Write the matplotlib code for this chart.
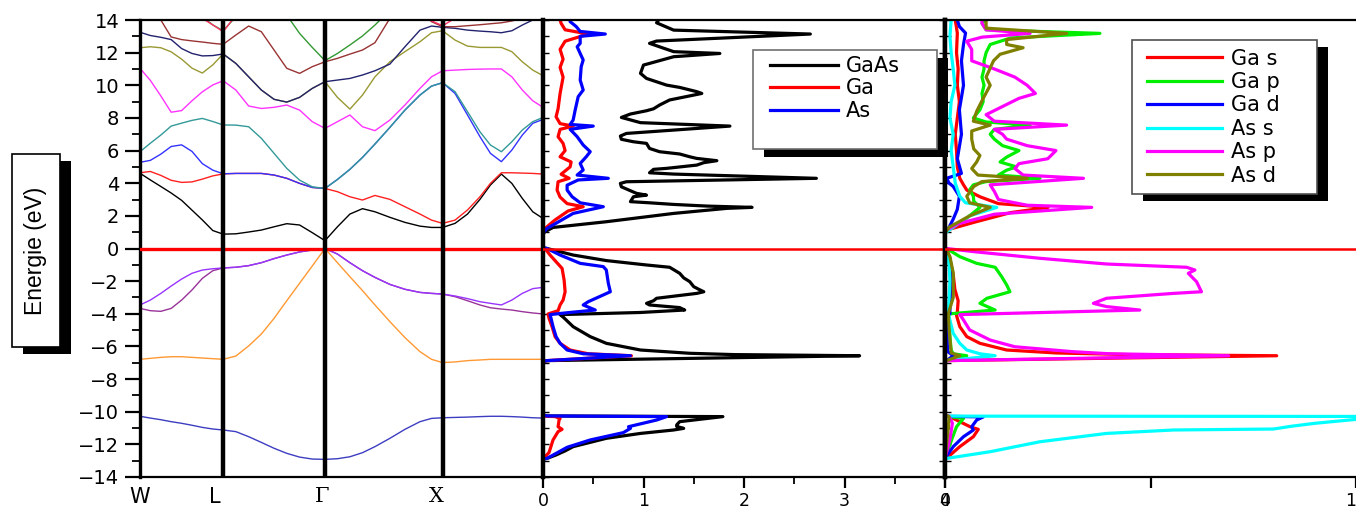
import numpy as np
import matplotlib
matplotlib.use("Agg")
import matplotlib.pyplot as plt
from matplotlib.patches import Rectangle
from matplotlib.ticker import MultipleLocator

plt.rcParams['font.family'] = ['DejaVu Sans']

# ---------------------------------------------------------------------------
# Band structure of GaAs along W - L - Gamma - X - W - K (k in units of 2pi/a)
# ---------------------------------------------------------------------------
K_W, K_L, K_G, K_X, K_K = 0.0, 0.707, 1.573, 2.573, 3.427
sym_k = [K_W, K_L, K_G, K_X]
sym_labels = ['W', 'L', 'Γ', 'X']

k_path = [0.000, 0.088, 0.177, 0.265, 0.354, 0.442, 0.530, 0.619, 0.707,
          0.815, 0.924, 1.032, 1.140, 1.248, 1.357, 1.465, 1.573,
          1.679, 1.785, 1.892, 1.998, 2.125, 2.253, 2.381, 2.479, 2.573,
          2.679, 2.785, 2.891, 2.980, 3.073, 3.162, 3.251, 3.340, 3.427]

band_01 = [-10.28, -10.39, -10.49, -10.61, -10.71, -10.83, -10.96, -11.06, -11.12,
           -11.22, -11.53, -11.88, -12.24, -12.55, -12.78, -12.90, -12.92,
           -12.88, -12.76, -12.51, -12.14, -11.63, -11.08, -10.61, -10.41, -10.37,
           -10.35, -10.33, -10.30, -10.28, -10.28, -10.30, -10.33, -10.37, -10.39]
band_02 = [-6.79, -6.73, -6.67, -6.63, -6.63, -6.67, -6.71, -6.75, -6.79,
           -6.59, -5.97, -5.24, -4.28, -3.20, -2.13, -1.07, 0.00,
           -0.87, -1.73, -2.58, -3.46, -4.48, -5.46, -6.32, -6.79, -6.99,
           -6.95, -6.87, -6.83, -6.79, -6.79, -6.79, -6.79, -6.79, -6.79]
band_03 = [-3.67, -3.81, -3.85, -3.67, -3.16, -2.54, -1.83, -1.36, -1.19,
           -1.15, -1.05, -0.87, -0.62, -0.40, -0.21, -0.09, 0.00,
           -0.34, -0.87, -1.36, -1.77, -2.20, -2.50, -2.69, -2.75, -2.79,
           -2.95, -3.20, -3.46, -3.63, -3.71, -3.77, -3.87, -3.95, -4.01]
band_04 = [-3.46, -3.16, -2.75, -2.30, -1.87, -1.52, -1.32, -1.24, -1.19,
           -1.15, -1.05, -0.87, -0.62, -0.40, -0.21, -0.09, 0.00,
           -0.34, -0.87, -1.36, -1.77, -2.20, -2.50, -2.69, -2.75, -2.79,
           -2.91, -3.07, -3.26, -3.36, -3.46, -3.16, -2.75, -2.46, -2.38]
band_05 = [4.61, 4.20, 3.80, 3.40, 2.95, 2.35, 1.75, 1.10, 0.88,
           0.90, 1.01, 1.13, 1.33, 1.52, 1.44, 0.97, 0.48,
           1.33, 2.11, 2.44, 2.25, 1.91, 1.60, 1.37, 1.29, 1.29,
           1.54, 2.11, 3.01, 3.89, 4.56, 3.99, 3.07, 2.25, 1.84]
band_06 = [4.64, 4.72, 4.48, 4.18, 4.05, 4.08, 4.25, 4.45, 4.57,
           4.60, 4.60, 4.60, 4.50, 4.30, 3.99, 3.74, 3.68,
           3.48, 3.17, 2.97, 3.25, 3.01, 2.56, 2.11, 1.74, 1.54,
           1.74, 2.36, 3.17, 3.99, 4.64, 4.64, 4.62, 4.60, 4.56]
band_07 = [5.28, 5.40, 5.78, 6.25, 6.35, 5.95, 5.20, 4.80, 4.58,
           4.60, 4.60, 4.60, 4.50, 4.30, 3.99, 3.74, 3.68,
           4.23, 4.85, 5.58, 6.40, 7.42, 8.48, 9.40, 9.95, 10.16,
           9.50, 8.18, 6.85, 5.83, 5.32, 6.03, 6.95, 7.67, 7.91]
band_08 = [5.93, 6.45, 6.95, 7.50, 7.68, 7.85, 7.97, 7.78, 7.57,
           7.56, 7.46, 6.75, 5.83, 4.91, 4.19, 3.78, 3.68,
           4.23, 4.85, 5.58, 6.40, 7.42, 8.48, 9.40, 9.95, 10.16,
           9.61, 8.38, 7.15, 6.34, 5.93, 6.54, 7.26, 7.77, 8.03]
band_09 = [11.04, 10.30, 9.35, 8.35, 8.45, 9.05, 9.60, 10.02, 10.28,
           9.71, 8.73, 8.58, 8.65, 8.79, 8.48, 7.77, 7.36,
           7.77, 8.18, 7.46, 7.22, 7.87, 8.79, 9.81, 10.52, 10.89,
           10.93, 10.97, 10.99, 11.00, 11.00, 10.52, 9.71, 9.05, 8.65]
band_10 = [12.30, 12.36, 12.30, 12.05, 11.60, 11.05, 10.75, 11.25, 11.92,
           11.34, 10.52, 9.71, 9.14, 8.97, 9.26, 9.81, 10.22,
           9.26, 8.54, 9.40, 10.52, 11.44, 12.06, 12.67, 13.22, 13.34,
           12.77, 12.40, 12.32, 12.32, 12.32, 12.06, 11.44, 10.93, 10.59]
band_11 = [13.25, 13.05, 12.94, 12.80, 12.25, 11.95, 11.80, 11.82, 11.92,
           11.34, 10.52, 9.71, 9.14, 8.97, 9.26, 9.81, 10.22,
           10.32, 10.42, 10.63, 10.89, 11.30, 12.36, 13.38, 13.63, 13.55,
           13.49, 13.38, 13.32, 13.28, 13.22, 13.34, 13.69, 14.00, 14.30]
band_12 = [14.60, 14.30, 14.00, 12.96, 12.80, 12.72, 12.65, 12.57, 12.51,
           13.08, 13.63, 13.28, 12.16, 11.04, 10.73, 11.14, 11.44,
           11.65, 11.91, 12.16, 12.61, 14.10, 14.80, 14.60, 13.90, 13.59,
           13.59, 13.65, 13.71, 13.77, 13.83, 13.94, 14.10, 14.30, 14.50]
band_13 = [15.00, 15.00, 15.00, 15.00, 15.00, 14.80, 14.20, 13.70, 13.34,
           14.20, 15.00, 15.00, 15.00, 14.30, 13.18, 12.32, 11.51,
           11.95, 12.47, 13.02, 13.69, 14.60, 15.00, 15.00, 15.00, 15.00,
           15.00, 15.00, 15.00, 15.00, 15.00, 15.00, 15.00, 15.00, 15.00]
band_14 = [15.00, 15.00, 15.00, 15.00, 15.00, 14.90, 14.10, 13.70, 13.28,
           14.30, 15.00, 15.00, 15.00, 15.00, 15.00, 15.00, 15.00,
           15.00, 15.00, 15.00, 15.00, 15.00, 15.00, 15.00, 13.95, 13.65,
           14.10, 15.00, 15.00, 15.00, 15.00, 15.00, 15.00, 15.00, 15.00]

bands = [band_01, band_02, band_03, band_04, band_05, band_06, band_07,
         band_08, band_09, band_10, band_11, band_12, band_13, band_14]
band_colors = ['#3d3dc2', '#ff9933', '#993399', '#9933ff', '#000000', '#ff2020',
               '#3333ff', '#339999', '#ff33ff', '#999933', '#22226e', '#993333',
               '#339933', '#ff3366']

# ---------------------------------------------------------------------------
# Total and atom-resolved DOS: rows are (energy in eV, states/eV)
# ---------------------------------------------------------------------------
dos_gaas = np.array([
    (-14.0, 0), (-12.90, 0), (-12.86, 0.04), (-12.65, 0.13), (-12.40, 0.22),
    (-12.14, 0.30), (-11.63, 0.63), (-11.33, 0.97), (-11.12, 1.30), (-11.02, 1.40),
    (-10.90, 1.33), (-10.81, 1.33), (-10.61, 1.36), (-10.30, 1.79), (-10.26, 0.04),
    (-10.20, 0), (-6.92, 0), (-6.87, 0.04), (-6.57, 3.15), (-6.50, 1.90),
    (-6.42, 1.46), (-6.22, 0.97), (-5.81, 0.63), (-5.40, 0.47), (-4.79, 0.30),
    (-4.20, 0.20), (-4.05, 0.17), (-3.92, 0.97), (-3.77, 1.41), (-3.62, 1.36),
    (-3.46, 1.06), (-3.36, 1.03), (-3.20, 1.10), (-3.05, 1.13), (-2.75, 1.53),
    (-2.65, 1.60), (-2.50, 1.55), (-2.34, 1.50), (-2.03, 1.46), (-1.80, 1.40),
    (-1.52, 1.36), (-1.15, 1.26), (-1.01, 1.03), (-0.74, 0.63), (-0.40, 0.30),
    (0.00, 0.04), (0.05, 0), (0.90, 0), (1.03, 0.02), (1.29, 0.10), (1.64, 0.63),
    (2.15, 1.30), (2.46, 1.83), (2.52, 2.08), (2.60, 1.63), (2.70, 1.30),
    (2.80, 1.06), (2.87, 0.87), (3.17, 0.90), (3.27, 1.03), (3.38, 0.93),
    (3.78, 0.78), (3.99, 0.77), (4.09, 0.83), (4.30, 2.72), (4.56, 1.30),
    (4.64, 1.06), (4.85, 1.10), (4.91, 1.23), (5.11, 1.53), (5.26, 1.60),
    (5.38, 1.73), (5.52, 1.53), (5.62, 1.46), (5.79, 1.36), (5.93, 1.16),
    (6.13, 1.06), (6.44, 1.03), (6.54, 0.90), (6.69, 0.78), (6.89, 0.77),
    (7.05, 0.83), (7.50, 1.86), (7.71, 0.97), (8.03, 0.78), (8.24, 0.87),
    (8.44, 1.03), (8.56, 1.10), (8.79, 1.16), (9.10, 1.26), (9.40, 1.50),
    (9.50, 1.58), (9.61, 1.53), (9.87, 1.36), (10.01, 1.23), (10.42, 1.03),
    (10.73, 0.97), (11.24, 1.00), (11.34, 1.06), (11.75, 1.30), (11.95, 1.76),
    (12.06, 1.30), (12.57, 1.06), (12.71, 1.13), (13.14, 2.66), (13.38, 1.30),
    (13.83, 1.13), (14.0, 1.15)])

dos_ga = np.array([
    (-14.0, 0), (-12.88, 0), (-12.76, 0.02), (-12.50, 0.06), (-11.73, 0.10),
    (-11.22, 0.15), (-11.08, 0.19), (-10.92, 0.15), (-10.51, 0.16), (-10.41, 0.17),
    (-10.30, 0.12), (-10.27, 0), (-6.92, 0), (-6.87, 0.04), (-6.57, 0.88),
    (-6.45, 0.45), (-6.22, 0.27), (-5.81, 0.17), (-5.40, 0.12), (-4.79, 0.09),
    (-4.28, 0.06), (-4.01, 0.05), (-3.81, 0.15), (-3.46, 0.17), (-3.16, 0.20),
    (-2.65, 0.22), (-1.93, 0.21), (-1.22, 0.19), (-0.81, 0.13), (-0.40, 0.07),
    (0.00, 0.02), (0.05, 0), (0.95, 0), (1.23, 0.02), (1.75, 0.12), (2.30, 0.25),
    (2.56, 0.40), (2.75, 0.24), (3.15, 0.17), (3.58, 0.14), (4.09, 0.15),
    (4.30, 0.26), (4.55, 0.18), (5.00, 0.27), (5.30, 0.28), (5.62, 0.17),
    (6.00, 0.22), (6.44, 0.20), (6.85, 0.15), (7.30, 0.17), (7.50, 0.30),
    (7.65, 0.17), (8.07, 0.13), (8.56, 0.15), (9.50, 0.17), (10.50, 0.20),
    (11.10, 0.17), (11.60, 0.20), (12.20, 0.17), (12.70, 0.22), (13.14, 0.45),
    (13.40, 0.22), (13.80, 0.18), (14.0, 0.17)])

dos_as = np.array([
    (-14.0, 0), (-12.90, 0), (-12.86, 0.04), (-12.18, 0.24), (-11.73, 0.47),
    (-11.28, 0.80), (-11.02, 0.87), (-10.92, 0.85), (-10.51, 1.13), (-10.30, 1.23),
    (-10.26, 0.04), (-10.20, 0), (-6.92, 0), (-6.87, 0.04), (-6.57, 0.87),
    (-6.45, 0.40), (-6.22, 0.24), (-5.81, 0.17), (-5.40, 0.13), (-4.79, 0.10),
    (-4.28, 0.08), (-4.05, 0.07), (-3.93, 0.25), (-3.77, 0.52), (-3.46, 0.40),
    (-3.26, 0.45), (-2.65, 0.67), (-2.13, 0.65), (-1.32, 0.63), (-1.11, 0.60),
    (-0.91, 0.37), (-0.40, 0.17), (0.00, 0.04), (0.05, 0), (0.95, 0), (1.23, 0.04),
    (2.15, 0.30), (2.56, 0.60), (2.80, 0.37), (3.17, 0.29), (3.58, 0.24),
    (3.88, 0.24), (4.20, 0.35), (4.30, 0.65), (4.50, 0.34), (4.81, 0.40),
    (5.21, 0.37), (5.62, 0.43), (5.93, 0.47), (6.34, 0.40), (6.85, 0.34),
    (7.30, 0.27), (7.50, 0.50), (7.60, 0.27), (7.87, 0.30), (8.48, 0.32),
    (9.30, 0.35), (9.71, 0.40), (10.32, 0.37), (11.14, 0.38), (11.55, 0.40),
    (11.95, 0.37), (12.36, 0.34), (12.57, 0.37), (13.00, 0.37), (13.14, 0.62),
    (13.30, 0.37), (13.60, 0.33), (13.90, 0.27), (14.0, 0.27)])

# ---------------------------------------------------------------------------
# Orbital-projected DOS: rows are (energy in eV, states/eV)
# ---------------------------------------------------------------------------
pdos_ga_s = np.array([
    (-14.0, 0), (-12.86, 0), (-12.76, 0.008), (-12.14, 0.036), (-11.53, 0.069),
    (-11.08, 0.081), (-10.92, 0.061), (-10.61, 0.036), (-10.41, 0.020),
    (-10.28, 0.008), (-10.20, 0), (-6.92, 0), (-6.87, 0.004), (-6.57, 0.807),
    (-6.50, 0.45), (-6.40, 0.27), (-6.22, 0.15), (-5.81, 0.085), (-5.40, 0.053),
    (-4.79, 0.036), (-4.10, 0.028), (-3.90, 0.030), (-3.20, 0.032), (-2.50, 0.024),
    (-1.60, 0.020), (-0.70, 0.012), (0.00, 0.004), (0.05, 0), (0.95, 0),
    (1.13, 0.004), (1.60, 0.07), (2.20, 0.16), (2.52, 0.251), (2.75, 0.13),
    (3.17, 0.085), (3.58, 0.053), (3.90, 0.045), (4.30, 0.036), (5.00, 0.030),
    (6.00, 0.028), (7.00, 0.025), (8.00, 0.030), (9.00, 0.035), (10.00, 0.030),
    (11.00, 0.032), (12.00, 0.028), (13.20, 0.030), (14.0, 0.025)])

pdos_ga_p = np.array([
    (-14.0, 0), (-12.86, 0), (-11.73, 0.016), (-10.92, 0.028), (-10.41, 0.045),
    (-10.30, 0.010), (-10.20, 0), (-6.92, 0), (-6.80, 0.010), (-6.57, 0.053),
    (-6.45, 0.020), (-6.22, 0.015), (-5.40, 0.012), (-4.30, 0.010), (-4.01, 0.008),
    (-3.77, 0.122), (-3.36, 0.085), (-3.05, 0.102), (-2.65, 0.158), (-2.23, 0.150),
    (-1.73, 0.138), (-1.15, 0.122), (-0.91, 0.077), (-0.50, 0.036), (0.00, 0.004),
    (0.05, 0), (0.95, 0), (1.20, 0.010), (1.80, 0.050), (2.52, 0.085), (2.90, 0.070),
    (3.20, 0.069), (3.60, 0.060), (3.90, 0.069), (4.10, 0.100), (4.30, 0.231),
    (4.50, 0.130), (4.80, 0.150), (5.00, 0.174), (5.30, 0.134), (5.60, 0.150),
    (6.00, 0.180), (6.30, 0.140), (6.70, 0.120), (7.00, 0.110), (7.30, 0.120),
    (7.56, 0.207), (7.75, 0.100), (8.00, 0.069), (8.50, 0.085), (9.00, 0.093),
    (9.50, 0.090), (10.00, 0.095), (10.50, 0.090), (11.00, 0.095), (11.50, 0.095),
    (12.00, 0.100), (12.50, 0.110), (12.90, 0.160), (13.18, 0.377), (13.40, 0.100),
    (13.80, 0.090), (14.0, 0.100)])

pdos_ga_d = np.array([
    (-14.0, 0), (-12.86, 0), (-12.14, 0.020), (-11.53, 0.045), (-11.12, 0.069),
    (-10.92, 0.065), (-10.51, 0.077), (-10.32, 0.093), (-10.28, 0.005), (-10.20, 0),
    (-6.92, 0), (-6.87, 0.004), (-6.57, 0.020), (-6.30, 0.006), (-4.10, 0.004),
    (-4.00, 0.012), (-3.20, 0.012), (-1.60, 0.018), (-0.60, 0.012), (0.00, 0.002),
    (0.05, 0), (0.95, 0), (1.30, 0.010), (1.80, 0.020), (2.40, 0.030), (3.20, 0.035),
    (3.80, 0.020), (4.00, 0.010), (4.30, 0.004), (4.60, 0.040), (5.50, 0.030),
    (7.00, 0.040), (8.50, 0.035), (10.00, 0.045), (11.50, 0.040), (12.50, 0.045),
    (13.20, 0.050), (13.60, 0.035), (14.0, 0.030)])

pdos_as_s = np.array([
    (-14.0, 0), (-12.88, 0), (-12.86, 0.004), (-12.45, 0.110), (-11.84, 0.231),
    (-11.33, 0.393), (-11.12, 0.556), (-11.06, 0.799), (-11.00, 0.815),
    (-10.90, 0.840), (-10.71, 0.900), (-10.47, 1.000), (-10.30, 1.600),
    (-10.27, 0.004), (-10.20, 0), (-6.92, 0), (-6.87, 0.004), (-6.57, 0.122),
    (-6.45, 0.085), (-6.22, 0.053), (-5.81, 0.036), (-5.20, 0.020), (-4.20, 0.010),
    (-4.00, 0.008), (-2.00, 0.012), (-1.00, 0.010), (0.00, 0.002), (0.05, 0),
    (0.95, 0), (1.30, 0.020), (2.00, 0.060), (2.52, 0.126), (2.80, 0.050),
    (3.20, 0.036), (4.00, 0.025), (5.00, 0.020), (6.00, 0.015), (7.00, 0.020),
    (8.00, 0.012), (9.00, 0.015), (10.00, 0.024), (11.00, 0.020), (12.00, 0.015),
    (13.00, 0.012), (14.0, 0.015)])

pdos_as_p = np.array([
    (-14.0, 0), (-12.86, 0), (-11.70, 0.012), (-10.70, 0.018), (-10.30, 0.010),
    (-10.20, 0), (-6.92, 0), (-6.87, 0.004), (-6.57, 0.690), (-6.45, 0.400),
    (-6.32, 0.310), (-6.02, 0.170), (-5.61, 0.110), (-4.99, 0.060), (-4.38, 0.045),
    (-4.05, 0.036), (-3.77, 0.474), (-3.56, 0.393), (-3.36, 0.361), (-3.05, 0.393),
    (-2.75, 0.556), (-2.65, 0.624), (-2.03, 0.612), (-1.83, 0.604), (-1.52, 0.592),
    (-1.32, 0.608), (-1.15, 0.588), (-0.95, 0.393), (-0.60, 0.231), (-0.19, 0.069),
    (0.00, 0.004), (0.05, 0), (0.95, 0), (1.13, 0.004), (1.50, 0.030), (2.10, 0.120),
    (2.52, 0.357), (2.65, 0.200), (3.00, 0.130), (3.50, 0.120), (3.90, 0.110),
    (4.30, 0.337), (4.50, 0.190), (4.90, 0.170), (5.20, 0.180), (5.50, 0.250),
    (6.00, 0.270), (6.30, 0.200), (6.70, 0.150), (7.00, 0.140), (7.30, 0.120),
    (7.56, 0.296), (7.80, 0.120), (8.20, 0.100), (8.70, 0.140), (9.20, 0.180),
    (9.50, 0.220), (10.00, 0.200), (10.50, 0.170), (11.00, 0.120), (11.50, 0.065),
    (12.20, 0.065), (12.70, 0.053), (12.95, 0.090), (13.18, 0.207), (13.40, 0.100),
    (13.80, 0.090), (14.0, 0.090)])

pdos_as_d = np.array([
    (-14.0, 0), (-12.86, 0), (-11.00, 0.008), (-10.30, 0.010), (-10.20, 0),
    (-6.92, 0), (-6.87, 0.004), (-6.57, 0.036), (-6.40, 0.015), (-5.00, 0.010),
    (-4.00, 0.008), (-3.00, 0.020), (-1.50, 0.020), (-0.50, 0.012), (0.00, 0.002),
    (0.05, 0), (0.95, 0), (1.30, 0.010), (2.00, 0.060), (2.52, 0.110), (2.80, 0.060),
    (3.20, 0.053), (3.80, 0.070), (4.10, 0.090), (4.30, 0.200), (4.50, 0.080),
    (4.90, 0.065), (5.30, 0.077), (5.70, 0.085), (6.10, 0.070), (6.70, 0.065),
    (7.20, 0.065), (7.56, 0.110), (7.80, 0.069), (8.40, 0.077), (9.20, 0.093),
    (10.00, 0.110), (10.50, 0.100), (11.50, 0.118), (11.90, 0.134), (12.30, 0.190),
    (12.50, 0.150), (12.80, 0.150), (13.18, 0.296), (13.50, 0.100), (14.0, 0.100)])

dos_labels = ['GaAs', 'Ga', 'As']
dos_colors = ['#000000', '#ff0000', '#0000ff']
pdos_labels = ['Ga s', 'Ga p', 'Ga d', 'As s', 'As p', 'As d']
pdos_colors = ['#ff0000', '#00ee00', '#0000ff', '#00ffff', '#ff00ff', '#808000']

E_MIN, E_MAX = -14, 14

# ---------------------------------------------------------------------------
W_PX, H_PX = 1356, 509
fig = plt.figure(figsize=(W_PX / 100, H_PX / 100), dpi=100)


def fx(px):
    return px / W_PX


def fy(py):
    return 1 - py / H_PX


def axes_rect(x0, x1, y0=20, y1=477):
    return [fx(x0), fy(y1), fx(x1) - fx(x0), fy(y0) - fy(y1)]


BAND_X0, BAND_X1 = 140, 543
ax_b = fig.add_axes(axes_rect(BAND_X0, BAND_X1))
ax_d = fig.add_axes(axes_rect(543, 945))
ax_p = fig.add_axes(axes_rect(945, 1356))

# ---- band structure panel
for vals, col in zip(bands, band_colors):
    ax_b.plot(k_path, vals, color=col, lw=1.0, zorder=2)
for k in sym_k[1:]:
    ax_b.axvline(k, color='black', lw=3.2, zorder=6)
ax_b.axhline(0, color='red', lw=2.4, zorder=5)
# point labels sit a few pixels left of their symmetry lines
px_per_k = (BAND_X1 - BAND_X0) / (K_K - K_W)
label_shift_px = [0, -8, -3, -6]
ax_b.set_xticks([k + d / px_per_k for k, d in zip(sym_k, label_shift_px)])
ax_b.set_xticklabels(sym_labels, fontsize=15)
for lab in ax_b.get_xticklabels():
    if lab.get_text() in ('Γ', 'X'):
        lab.set_fontfamily('DejaVu Serif')
ax_b.set_xlim(K_W, K_K)
ax_b.set_ylim(E_MIN, E_MAX)
ax_b.tick_params(axis='x', length=0, pad=7)
ax_b.set_yticks(np.arange(E_MIN, E_MAX + 1, 2))
ax_b.yaxis.set_minor_locator(MultipleLocator(1))
ax_b.tick_params(axis='y', which='major', direction='out', length=11,
                 width=1.6, labelsize=14, pad=4)
ax_b.tick_params(axis='y', which='minor', direction='out', length=6, width=1.3)
ax_b.spines['left'].set_linewidth(2.4)
ax_b.spines['top'].set_linewidth(1.6)
ax_b.spines['bottom'].set_linewidth(1.6)
ax_b.spines['right'].set_visible(False)

# ---- total / atomic DOS panel
dos_lines = []
for data, col, lab in zip([dos_gaas, dos_ga, dos_as], dos_colors, dos_labels):
    ln, = ax_d.plot(data[:, 1], data[:, 0], color=col, lw=2.3, label=lab)
    dos_lines.append(ln)
ax_d.axhline(0, color='red', lw=1.8, zorder=5)
ax_d.set_xlim(0, 4)
ax_d.set_ylim(E_MIN, E_MAX)
ax_d.set_xticks([0, 1, 2, 3, 4])
ax_d.set_xticklabels(['0', '1', '2', '3', '4'])
ax_d.xaxis.set_minor_locator(MultipleLocator(0.5))
ax_d.tick_params(axis='x', which='major', direction='out', length=8, width=1.6,
                 labelsize=12.5, pad=3)
ax_d.tick_params(axis='x', which='minor', direction='out', length=5, width=1.3)
ax_d.yaxis.set_major_locator(MultipleLocator(1))
ax_d.tick_params(axis='y', which='both', direction='in', length=4, width=1.0,
                 left=True, right=True, labelleft=False)
ax_d.spines['left'].set_linewidth(3.2)
ax_d.spines['right'].set_linewidth(3.2)
ax_d.spines['top'].set_linewidth(1.6)
ax_d.spines['bottom'].set_linewidth(1.6)

# ---- orbital-projected DOS panel
pdos_sets = [pdos_ga_s, pdos_ga_p, pdos_ga_d, pdos_as_s, pdos_as_p, pdos_as_d]
pdos_lines = []
for data, col, lab in zip(pdos_sets, pdos_colors, pdos_labels):
    ln, = ax_p.plot(data[:, 1], data[:, 0], color=col, lw=2.3, label=lab)
    pdos_lines.append(ln)
ax_p.axhline(0, color='red', lw=1.8, zorder=5)
ax_p.set_xlim(0, 1)
ax_p.set_ylim(E_MIN, E_MAX)
ax_p.set_xticks([0, 0.5, 1])
ax_p.set_xticklabels(['0', '', '1'])
ax_p.get_xticklabels()[-1].set_horizontalalignment('right')
ax_p.tick_params(axis='x', which='major', direction='out', length=8, width=1.6,
                 labelsize=12.5, pad=3)
ax_p.yaxis.set_major_locator(MultipleLocator(1))
ax_p.tick_params(axis='y', which='both', direction='in', length=4, width=1.0,
                 left=True, right=False, labelleft=False)
ax_p.spines['left'].set_linewidth(3.2)
ax_p.spines['top'].set_linewidth(1.6)
ax_p.spines['bottom'].set_linewidth(1.6)
ax_p.spines['right'].set_visible(False)


# ---- framed boxes with a solid drop shadow
def shadow_box(x0, y0, x1, y1, dx, dy, edge):
    w, h = fx(x1) - fx(x0), fy(y0) - fy(y1)
    fig.add_artist(Rectangle((fx(x0 + dx), fy(y1 + dy)), w, h,
                             transform=fig.transFigure, facecolor='black',
                             edgecolor='none', zorder=10))
    fig.add_artist(Rectangle((fx(x0), fy(y1)), w, h,
                             transform=fig.transFigure, facecolor='white',
                             edgecolor=edge, lw=1.2, zorder=11))


shadow_box(753, 50, 937, 149, 11, 8, '#707070')
shadow_box(1132, 40, 1317, 194, 11, 7, '#505050')
shadow_box(11.5, 154, 60, 347, 11.5, 6.5, 'black')

leg1 = fig.legend(dos_lines, dos_labels, loc='upper left',
                  bbox_to_anchor=(fx(770), fy(56)), bbox_transform=fig.transFigure,
                  frameon=False, fontsize=15, handlelength=3.27, handletextpad=0.38,
                  labelspacing=0.12, borderpad=0, borderaxespad=0)
leg1.set_zorder(12)
leg2 = fig.legend(pdos_lines, pdos_labels, loc='upper left',
                  bbox_to_anchor=(fx(1147), fy(48.5)), bbox_transform=fig.transFigure,
                  frameon=False, fontsize=15, handlelength=3.6, handletextpad=0.43,
                  labelspacing=0.165, borderpad=0, borderaxespad=0)
leg2.set_zorder(12)

# ---- boxed energy axis title
fig.text(fx(35.8), fy(251), 'Energie (eV)', rotation=90, ha='center', va='center',
         fontsize=16.5, family='Liberation Sans', zorder=12)

fig.savefig('out.png', dpi=100)
